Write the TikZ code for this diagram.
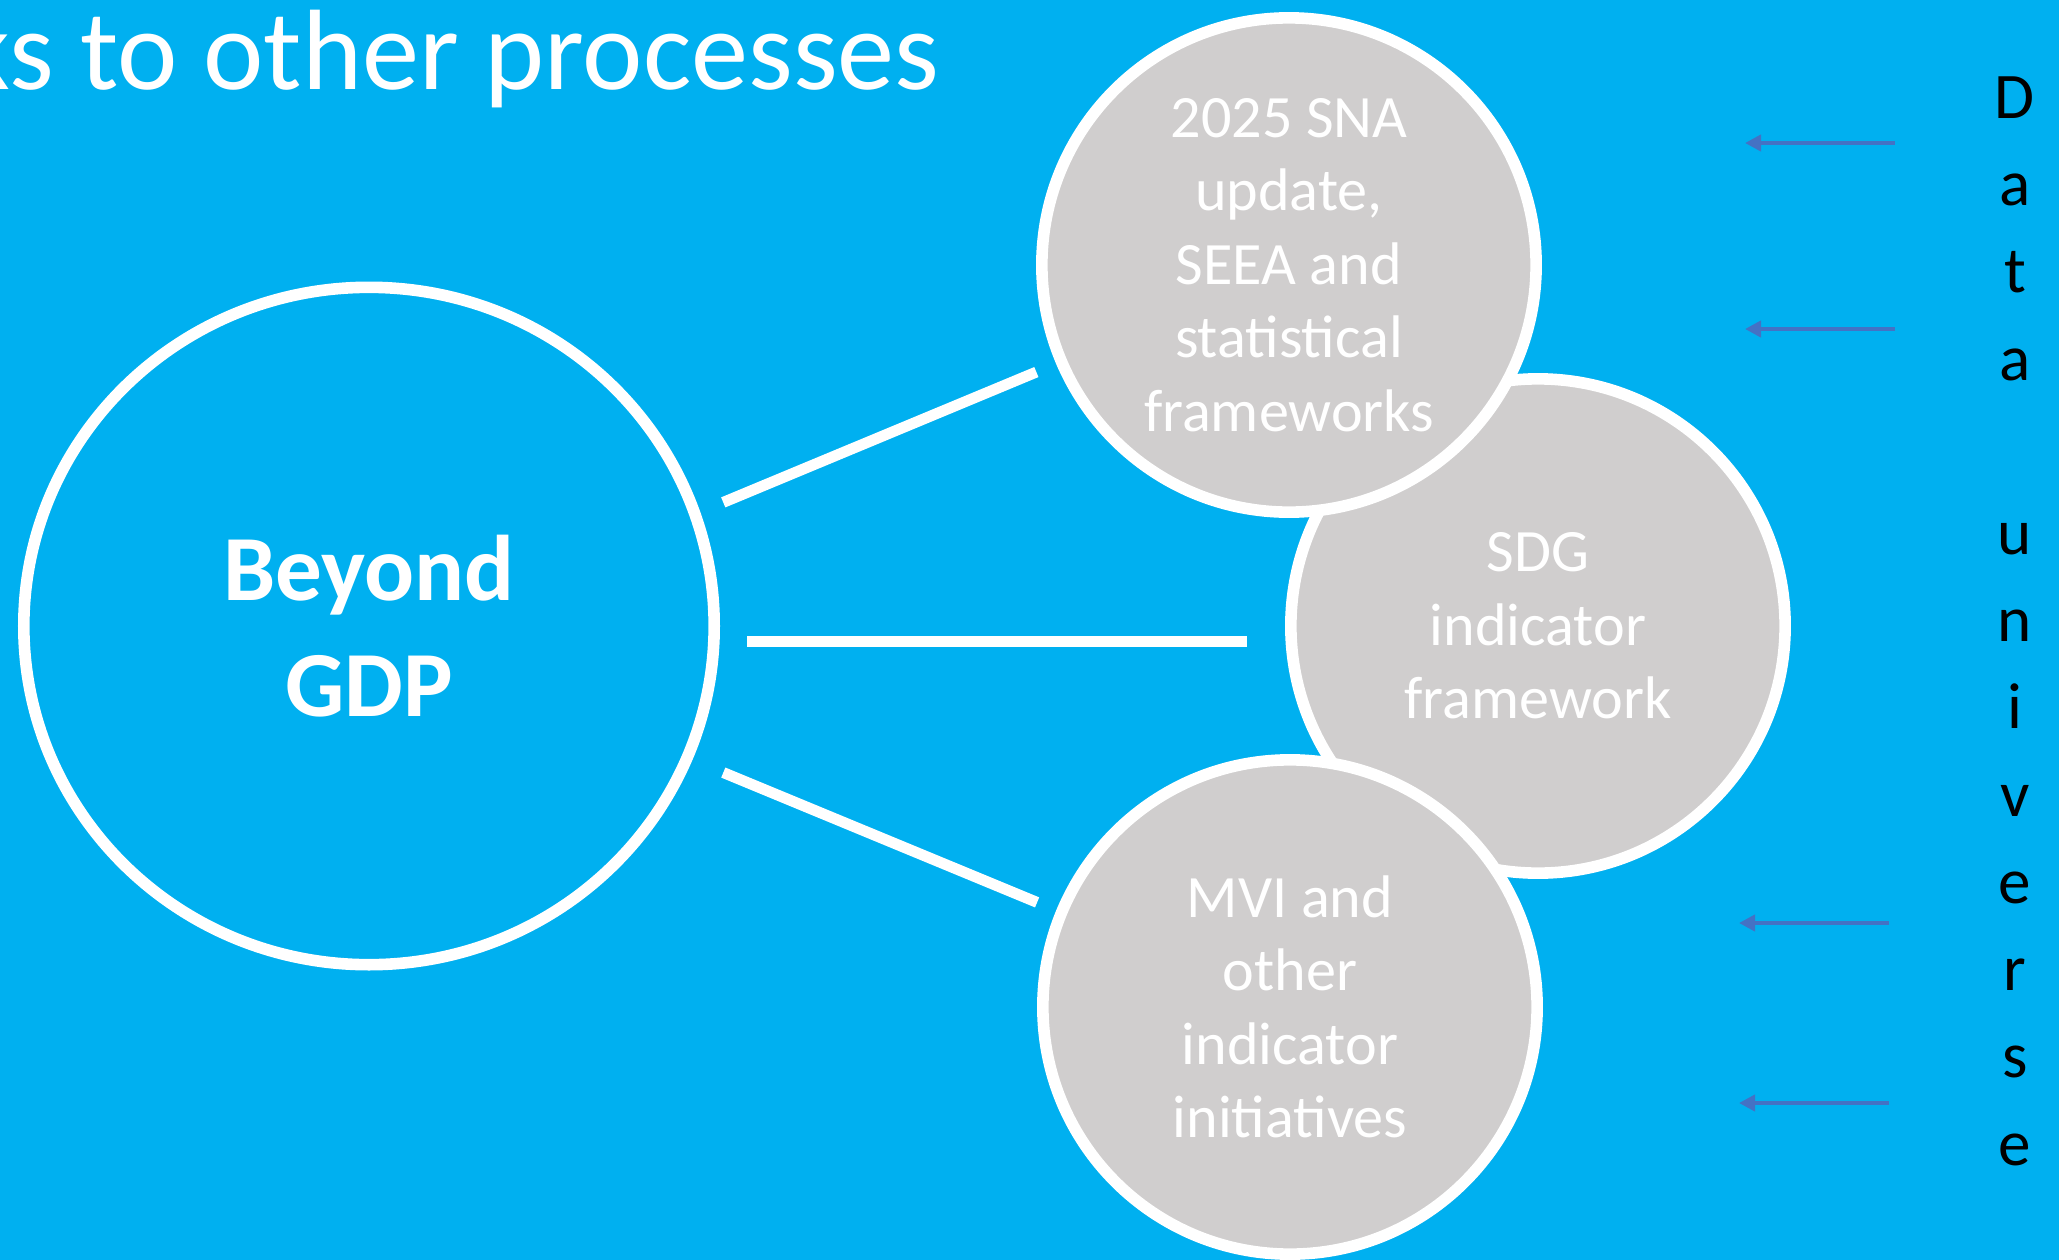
\documentclass[tikz,border=0pt]{standalone}
\usepackage{fontspec}
\setmainfont{Carlito}
\usepackage{xcolor}
\usetikzlibrary{arrows.meta, shapes.geometric}
\definecolor{slideblue}{HTML}{00B0F0}
\definecolor{circlegray}{HTML}{D0CECE}
\definecolor{arrowblue}{HTML}{4472C4}

\begin{document}
\begin{tikzpicture}[x=0.01cm, y=-0.01cm,
	main/.style={draw=white, circle, line width=3.3pt, fill=circlegray, text=white, align=center, minimum size=4.94cm, inner sep=0pt, font=\fontsize{17.1}{20.9}\selectfont},
	link/.style={draw=white, line width=3.1pt},
	feed/.style={draw=arrowblue, line width=1.35pt, -{Triangle[length=4.6pt,width=4.6pt]}}]
	
	%background
	\fill[slideblue] (0,0) rectangle (2059,1260);
	\useasboundingbox (0,0) rectangle (2059,1260);
	
	%title
	\node[anchor=base east, inner sep=0pt, text=white, font=\fontsize{32.5}{39}\selectfont] (title) at (940,89) {ks to other processes};
	
	%circles
	\node[ellipse, draw=white, line width=3.3pt, minimum width=6.9cm, minimum height=6.77cm, inner sep=0pt, text=white, align=center, font=\bfseries\fontsize{26.5}{33}\selectfont] (gdp) at (369,626) {Beyond\\GDP};
	\node[main] (sdg) at (1538,626) {SDG\\indicator\\framework};
	\node[main] (sna) at (1289,265) {2025 SNA\\update,\\SEEA and\\statistical\\frameworks};
	\node[main] (mvi) at (1290,1007) {MVI and\\other\\indicator\\initiatives};
	
	%links
	\draw[link, shorten <=7.1pt, shorten >=6.1pt] (gdp.19) -- (sna.203);
	\draw[link] ([xshift=7.7pt, yshift=-4.3pt]gdp.east) -- ([xshift=-10.8pt, yshift=-4.3pt]sdg.west);
	\draw[link, shorten <=9.5pt, shorten >=5.9pt] (gdp) -- (mvi);
	
	%data universe
	\node[anchor=north, inner sep=0pt, align=center, font=\fontsize{18.5}{24.8}\selectfont] (universe) at (2015,76) {D\\a\\t\\a\\\mbox{}\\u\\n\\i\\v\\e\\r\\s\\e};
	
	\coordinate (in1) at (1895,143);
	\coordinate (out1) at (1745,143);
	\coordinate (in2) at (1895,329);
	\coordinate (out2) at (1745,329);
	\coordinate (in3) at (1889,923);
	\coordinate (out3) at (1739,923);
	\coordinate (in4) at (1889,1103);
	\coordinate (out4) at (1739,1103);
	
	\draw[feed] (in1) -- (out1);
	\draw[feed] (in2) -- (out2);
	\draw[feed] (in3) -- (out3);
	\draw[feed] (in4) -- (out4);
	
\end{tikzpicture}
\end{document}
